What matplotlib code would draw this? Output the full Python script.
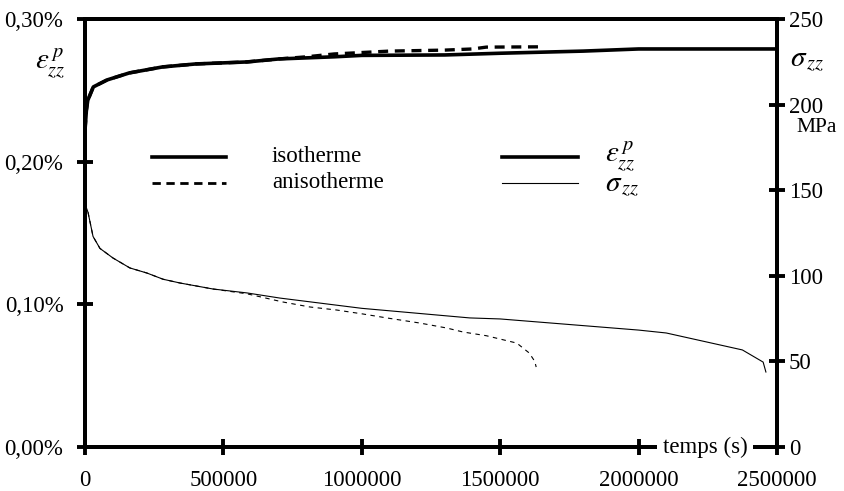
import matplotlib
matplotlib.use('Agg')
import matplotlib.pyplot as plt
from matplotlib.ticker import FuncFormatter

plt.rcParams['font.family'] = ['Liberation Serif', 'DejaVu Serif']
plt.rcParams['mathtext.fontset'] = 'stix'

# ===== données =====
# déformation plastique (%), axe gauche
t_eps_iso = [0, 5000, 10000, 30000, 80000, 160000, 280000, 400000, 585000, 700000,
             900000, 1000000, 1300000, 1500000, 1800000, 2000000, 2500000]
eps_iso = [0.222, 0.236, 0.243, 0.2524, 0.2573, 0.2622, 0.2664, 0.2685, 0.2699, 0.272,
           0.2735, 0.2745, 0.2748, 0.276, 0.2775, 0.279, 0.279]

t_eps_aniso = [0, 5000, 10000, 30000, 80000, 160000, 280000, 400000, 585000, 700000,
               800000, 900000, 1100000, 1300000, 1400000, 1450000, 1650000]
eps_aniso = [0.222, 0.236, 0.243, 0.2524, 0.2573, 0.2622, 0.2664, 0.2685, 0.2699, 0.272,
             0.2735, 0.2755, 0.2775, 0.2782, 0.279, 0.2803, 0.2805]

# contrainte (MPa), axe droit
t_sig_iso = [0, 11000, 29000, 54000, 101000, 162000, 224000, 282000, 343000, 462000,
             585000, 704000, 1000000, 1390000, 1500000, 2000000, 2100000, 2375000,
             2450000, 2460000]
sig_iso = [142, 137, 123, 116, 110.4, 104.6, 101.6, 98, 95.8, 92.3,
           90, 87, 81, 75.4, 74.8, 68.3, 66.6, 56.7, 49.6, 43.8]

t_sig_aniso = [0, 11000, 29000, 54000, 101000, 162000, 224000, 282000, 343000, 462000,
               585000, 715000, 812000, 910000, 1004000, 1090000, 1210000, 1307000,
               1365000, 1450000, 1560000, 1605000, 1625000, 1630000]
sig_aniso = [142, 137, 123, 116, 110.4, 104.6, 101.6, 98, 95.8, 92.3,
             89.5, 84.7, 81.8, 80, 77.7, 75.4, 72.4, 69.5, 67.2, 65, 60.7, 54.9, 50, 46.7]

x_ticks = [0, 500000, 1000000, 1500000, 2000000, 2500000]
left_ticks = [0.0, 0.1, 0.2, 0.3]
right_ticks = [0, 50, 100, 150, 200, 250]

FS = 16.5
LW_AX = 2.8

fig = plt.figure(figsize=(8.45, 4.91), dpi=100)
ax = fig.add_axes([0.1006, 0.0896, 0.8189, 0.8717])
ax2 = ax.twinx()

ax.plot(t_eps_iso, eps_iso, color='black', lw=2.6, solid_joinstyle='round')
ax.plot(t_eps_aniso, eps_aniso, color='black', lw=2.4, ls=(0, (3, 2)))
ax2.plot(t_sig_iso, sig_iso, color='black', lw=0.8)
ax2.plot(t_sig_aniso, sig_aniso, color='black', lw=0.8, ls=(0, (4, 4)))

ax.set_xlim(0, 2500000)
ax.set_ylim(0, 0.30)
ax2.set_ylim(0, 250)
ax.set_xticks(x_ticks)
ax.set_yticks(left_ticks)
ax2.set_yticks(right_ticks)
ax.yaxis.set_major_formatter(FuncFormatter(lambda v, p: f'{v:.2f}'.replace('.', ',') + '%'))
ax.xaxis.set_major_formatter(FuncFormatter(lambda v, p: f'{int(v)}'))

for a in (ax, ax2):
    for s in a.spines.values():
        s.set_linewidth(LW_AX)
    a.tick_params(direction='inout', length=11, width=LW_AX, labelsize=FS, pad=4)
ax.tick_params(axis='x', pad=11)
ax.tick_params(axis='y', pad=10)
ax2.tick_params(axis='y', pad=3)

# étiquette de l'axe des temps posée sur l'axe
ax2.text(0.896, 0.0, 'temps (s)', transform=ax2.transAxes, ha='center', va='center',
         fontsize=FS, bbox=dict(facecolor='white', edgecolor='none', pad=4), zorder=10,
         clip_on=False)

# noms des axes verticaux
fig.text(0.078, 0.872, r'$\varepsilon_{zz}^{\,p}$', ha='right', va='center', fontsize=21)
fig.text(0.935, 0.875, r'$\sigma_{\,zz}$', ha='left', va='center', fontsize=21)
fig.text(0.943, 0.741, 'MPa', ha='left', va='center', fontsize=15.5)

# légende
ax.plot([0.097, 0.204], [0.678, 0.678], transform=ax.transAxes, color='black', lw=2.6)
ax.plot([0.097, 0.204], [0.617, 0.617], transform=ax.transAxes, color='black', lw=2.0,
        ls=(0, (3, 2)))
ax.text(0.270, 0.678, 'isotherme', transform=ax.transAxes, va='center', fontsize=FS)
ax.text(0.270, 0.617, 'anisotherme', transform=ax.transAxes, va='center', fontsize=FS)
ax.plot([0.603, 0.712], [0.678, 0.678], transform=ax.transAxes, color='black', lw=2.6)
ax.plot([0.603, 0.712], [0.617, 0.617], transform=ax.transAxes, color='black', lw=0.8)
ax.text(0.751, 0.678, r'$\varepsilon_{zz}^{\,p}$', transform=ax.transAxes, va='center',
        fontsize=21)
ax.text(0.751, 0.610, r'$\sigma_{\,zz}$', transform=ax.transAxes, va='center', fontsize=21)

fig.savefig('out.png', dpi=100, facecolor='white')
